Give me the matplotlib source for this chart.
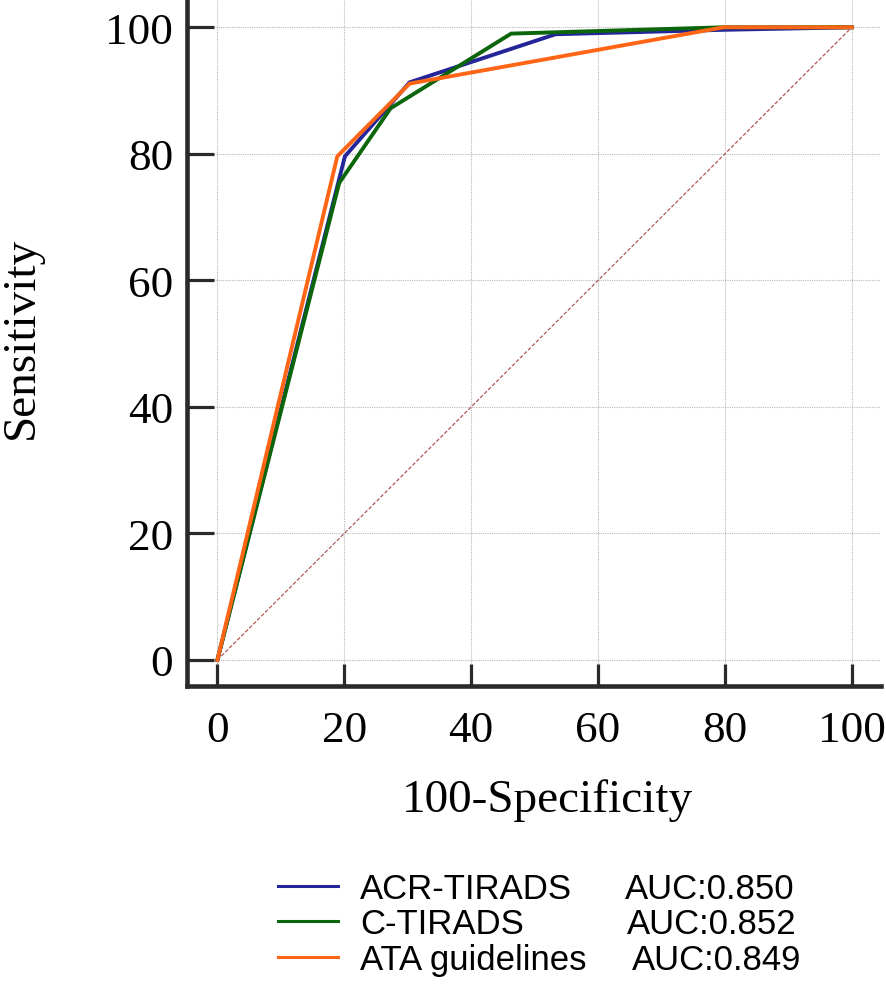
import matplotlib
matplotlib.use("Agg")
import matplotlib.pyplot as plt
from matplotlib.lines import Line2D

# ---- data ----
acr_x = [0, 20.1, 30.3, 53.3, 79.8, 100]
acr_y = [0, 79.6, 91.3, 98.9, 99.6, 100]
ct_x = [0, 19.2, 27.3, 46.3, 79.8, 100]
ct_y = [0, 75.4, 87.2, 99.0, 100, 100]
ata_x = [0, 18.9, 30.3, 79.8, 100]
ata_y = [0, 79.6, 91.1, 100, 100]
ref_x = [0, 100]
ref_y = [0, 100]
ticks = [0, 20, 40, 60, 80, 100]
names = ["ACR-TIRADS", "C-TIRADS", "ATA guidelines"]
aucs = ["AUC:0.850", "AUC:0.852", "AUC:0.849"]
colors = ["#25259a", "#0b650b", "#ff6514"]

W, H = 886, 995
fig = plt.figure(figsize=(W / 100, H / 100), dpi=100)
ax = fig.add_axes([187 / W, 1 - 687 / H, (881 - 187) / W, 687 / H])

ax.plot(ref_x, ref_y, color="#b05858", lw=0.9, ls=(0, (3, 1.5)), zorder=2)
series = [(acr_x, acr_y), (ct_x, ct_y), (ata_x, ata_y)]
for (xs, ys), c in zip(series, colors):
    ax.plot(xs, ys, color=c, lw=2.8, zorder=3, solid_joinstyle="miter")

ax.set_xlim(-4.79, 104.6)
ax.set_ylim(-4.11, 104.47)
ax.set_xticks(ticks)
ax.set_yticks(ticks)
ax.grid(True, color="#b8b8b8", ls=(0, (1, 1)), lw=0.8)
ax.set_axisbelow(True)

for s in ["top", "right"]:
    ax.spines[s].set_visible(False)
for s in ["left", "bottom"]:
    ax.spines[s].set_linewidth(3.3)
    ax.spines[s].set_color("#2a2a2a")

serif = "Liberation Serif"
ax.tick_params(axis="x", direction="in", length=16, width=2.3, color="#2a2a2a",
               pad=17, labelsize=32.5)
ax.tick_params(axis="y", direction="in", length=19.5, width=2.3, color="#2a2a2a",
               pad=10, labelsize=32.5)
for lab in ax.get_xticklabels() + ax.get_yticklabels():
    lab.set_fontfamily(serif)

fig.text(547 / W, 1 - 801 / H, "100-Specificity", family=serif, fontsize=34,
         ha="center", va="center")
fig.text(22 / W, 1 - 338 / H, "Sensitivity", family=serif, fontsize=34,
         ha="center", va="center", rotation=90)

handles = [Line2D([], [], color=c, lw=2.2) for c in colors]
leg = fig.legend(handles, names, loc="upper left", bbox_to_anchor=(278 / W, 1 - 873 / H),
                 frameon=False, prop={"family": "Liberation Sans", "size": 25},
                 handlelength=1.73, handletextpad=0.63, borderpad=0, borderaxespad=0,
                 labelspacing=0.07)
fig.canvas.draw()
auc_x = [625, 627, 632]
for t, a, xp in zip(leg.get_texts(), aucs, auc_x):
    bb = t.get_window_extent()
    fig.text(xp / W, bb.y0 / H, a, family="Liberation Sans", fontsize=25,
             ha="left", va="bottom")

fig.savefig("out.png", dpi=100)
